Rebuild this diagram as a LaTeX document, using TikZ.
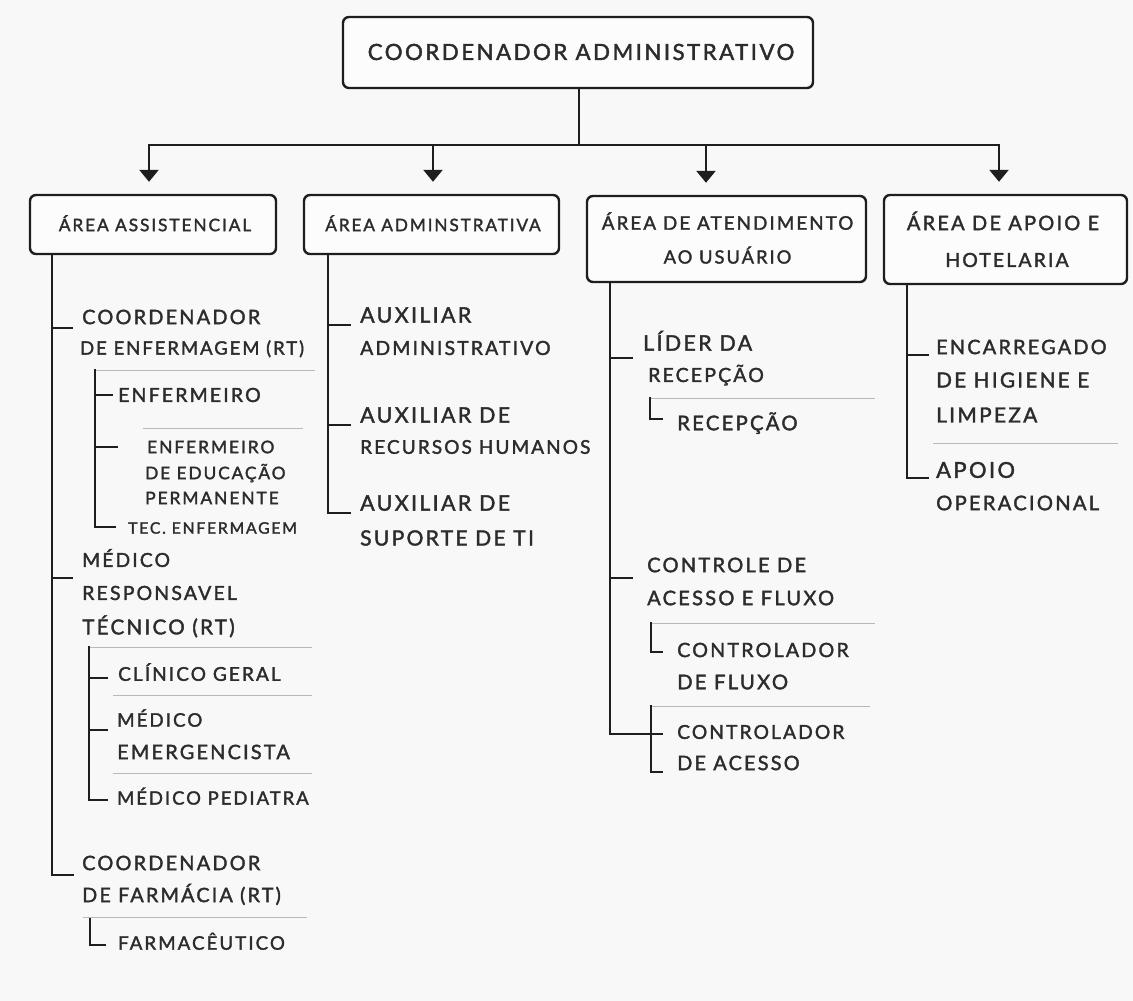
\documentclass[tikz,border=0pt]{standalone}
\usepackage{fontspec}
\setmainfont{Lato}[LetterSpace=11,FakeBold=1.8]
\usetikzlibrary{arrows.meta}
\definecolor{ink}{HTML}{1E1E1E}
\definecolor{txtc}{HTML}{2C2C2C}
\definecolor{sepc}{HTML}{B8B8B8}
\definecolor{bgc}{HTML}{F8F8F8}
\definecolor{boxfill}{HTML}{FCFCFC}
\newcommand\myfs[1]{\fontsize{#1pt}{#1pt}\selectfont}
\newcommand\tl[5]{\node[txt,font={\myfs{#4}}] (#1) at (#2,{#3+0.358*#4}) {#5};}
\newcommand\ctl[5]{\node[ctxt,font={\myfs{#4}}] (#1) at (#2,{#3+0.358*#4}) {#5};}
\begin{document}
\begin{tikzpicture}[x=1pt,y=-1pt,
  conn/.style={draw=ink,line width=2.6pt,line cap=rect},
  subconn/.style={draw=ink,line width=2.2pt,line cap=rect},
  arr/.style={draw=ink,line width=2.6pt,-{Triangle[width=19pt,length=12pt]},shorten >=12pt},
  sepline/.style={draw=sepc,line width=1pt},
  boxshape/.style={draw=ink,line width=2.4pt,rounded corners=6pt,fill=boxfill,inner sep=0pt},
  txt/.style={inner sep=0pt,anchor=base west,text=txtc},
  ctxt/.style={inner sep=0pt,anchor=base,text=txtc}]
\useasboundingbox (0,0) rectangle (1133,1001);
\fill[bgc] (0,0) rectangle (1133,1001);

% boxes
\node[boxshape,minimum width=470pt,minimum height=71pt] (top) at (578,52.5) {};
\node[boxshape,minimum width=246pt,minimum height=59pt] (b1) at (153,224.5) {};
\node[boxshape,minimum width=255pt,minimum height=59pt] (b2) at (431.5,224.5) {};
\node[boxshape,minimum width=279pt,minimum height=86pt] (b3) at (726.5,239) {};
\node[boxshape,minimum width=243pt,minimum height=89pt] (b4) at (1005.5,239.5) {};

\ctl{ttop}{581}{52}{22.3}{COORDENADOR ADMINISTRATIVO}
\ctl{h1}{155}{225}{17.3}{ÁREA ASSISTENCIAL}
\ctl{h2}{433}{225}{17.2}{ÁREA ADMINSTRATIVA}
\ctl{h3a}{727.5}{223}{18.8}{ÁREA DE ATENDIMENTO}
\ctl{h3b}{727.5}{257}{18.3}{AO USUÁRIO}
\ctl{h4a}{1003}{223}{20}{ÁREA DE APOIO E}
\ctl{h4b}{1007}{260}{19.4}{HOTELARIA}

% bus and arrows
\coordinate (bus) at (579,145);
\coordinate (a1) at (149,145);
\coordinate (a2) at (433,145);
\coordinate (a3) at (706,145);
\coordinate (a4) at (999,145);
\draw[conn] (top.south -| bus) -- (bus);
\draw[conn] (a1) -- (a4);
\draw[arr] (a1) -- (a1 |- b1.north);
\draw[arr] (a2) -- (a2 |- b2.north);
\draw[arr] (a3) -- (a3 |- b3.north);
\draw[arr] (a4) -- (a4 |- b4.north);

% ---------- column 1 ----------
\coordinate (t1) at (52,875);
\coordinate (t1e) at (73,875);
\coordinate (t1k1) at (72,328);
\coordinate (t1k2) at (72,578);
\draw[conn] (b1.south -| t1) -- (t1) -- (t1e);
\draw[conn] (t1k1 -| t1) -- (t1k1);
\draw[conn] (t1k2 -| t1) -- (t1k2);

\tl{c1a}{82}{317}{19.9}{COORDENADOR}
\tl{c1b}{80}{348}{18.4}{DE ENFERMAGEM (RT)}
\draw[sepline] (95,370) -- (315,370);
\coordinate (s1) at (95,370);
\coordinate (s1e) at (115,527);
\draw[subconn] (s1) |- (s1e);
\draw[subconn] (95,395) -- (112,395);
\draw[subconn] (95,447) -- (117,447);
\tl{e1}{118}{395}{19.5}{ENFERMEIRO}
\draw[sepline] (143,428) -- (303,428);
\tl{e2a}{147}{447}{17.4}{ENFERMEIRO}
\tl{e2b}{145}{473}{17.3}{DE EDUCAÇÃO}
\tl{e2c}{145}{498}{17.4}{PERMANENTE}
\tl{e3}{128}{528}{15.8}{TEC. ENFERMAGEM}

\tl{m1a}{82}{560}{19.3}{MÉDICO}
\tl{m1b}{82}{593}{19.5}{RESPONSAVEL}
\tl{m1c}{82}{627}{20.6}{TÉCNICO (RT)}
\draw[sepline] (89,647) -- (312,647);
\coordinate (s2) at (89,647);
\coordinate (s2e) at (107,800);
\draw[subconn] (s2) |- (s2e);
\draw[subconn] (89,678) -- (107,678);
\draw[subconn] (89,730) -- (107,730);
\tl{m2}{118}{674}{19}{CLÍNICO GERAL}
\draw[sepline] (113,695) -- (312,695);
\tl{m3a}{117}{720}{18.7}{MÉDICO}
\tl{m3b}{117}{752}{19.9}{EMERGENCISTA}
\draw[sepline] (113,773) -- (312,773);
\tl{m4}{117}{798}{18.4}{MÉDICO PEDIATRA}

\tl{f1a}{82}{863}{19.9}{COORDENADOR}
\tl{f1b}{82}{895}{19.8}{DE FARMÁCIA (RT)}
\draw[sepline] (83,917) -- (307,917);
\coordinate (s3) at (90,919);
\coordinate (s3e) at (105,945);
\draw[subconn] (s3) |- (s3e);
\tl{f2}{118}{943}{18.7}{FARMACÊUTICO}

% ---------- column 2 ----------
\coordinate (t2) at (328,513);
\coordinate (t2e) at (350,513);
\draw[conn] (b2.south -| t2) -- (t2) -- (t2e);
\draw[conn] (328,325) -- (350,325);
\draw[conn] (328,425) -- (350,425);
\tl{a1a}{360}{315}{21.4}{AUXILIAR}
\tl{a1b}{360}{348}{19.4}{ADMINISTRATIVO}
\tl{a2a}{360}{415}{21.4}{AUXILIAR DE}
\tl{a2b}{360}{447}{19}{RECURSOS HUMANOS}
\tl{a3a}{360}{503}{21.4}{AUXILIAR DE}
\tl{a3b}{360}{538}{21}{SUPORTE DE TI}

% ---------- column 3 ----------
\coordinate (t3) at (610,734);
\coordinate (t3e) at (662,734);
\draw[conn] (b3.south -| t3) -- (t3) -- (t3e);
\draw[conn] (610,358) -- (632,358);
\draw[conn] (610,578) -- (632,578);
\tl{l1a}{643}{343}{21.4}{LÍDER DA}
\tl{l1b}{648}{375}{19.5}{RECEPÇÃO}
\draw[sepline] (650,398) -- (875,398);
\coordinate (s4) at (650,398);
\coordinate (s4e) at (662,419);
\draw[subconn] (s4) |- (s4e);
\tl{l2}{677}{423}{20.3}{RECEPÇÃO}
\tl{k1a}{647}{565}{20.1}{CONTROLE DE}
\tl{k1b}{647}{598}{20.1}{ACESSO E FLUXO}
\draw[sepline] (650,623) -- (875,623);
\coordinate (s5) at (651,623);
\coordinate (s5e) at (662,652);
\draw[subconn] (s5) |- (s5e);
\tl{k2a}{677}{650}{19.7}{CONTROLADOR}
\tl{k2b}{677}{682}{20.3}{DE FLUXO}
\draw[sepline] (651,706) -- (870,706);
\coordinate (s6) at (651,706);
\coordinate (s6e) at (662,772);
\draw[subconn] (s6) |- (s6e);
\tl{k3a}{677}{732}{19.2}{CONTROLADOR}
\tl{k3b}{677}{763}{19.9}{DE ACESSO}

% ---------- column 4 ----------
\coordinate (t4) at (907,478);
\coordinate (t4e) at (928,478);
\draw[conn] (b4.south -| t4) -- (t4) -- (t4e);
\draw[conn] (907,355) -- (928,355);
\tl{p1a}{936}{347}{19.9}{ENCARREGADO}
\tl{p1b}{936}{380}{20.7}{DE HIGIENE E}
\tl{p1c}{936}{415}{20.9}{LIMPEZA}
\draw[sepline] (933,443) -- (1118,443);
\tl{p2a}{936}{470}{21.9}{APOIO}
\tl{p2b}{936}{503}{20.2}{OPERACIONAL}
\end{tikzpicture}
\end{document}
